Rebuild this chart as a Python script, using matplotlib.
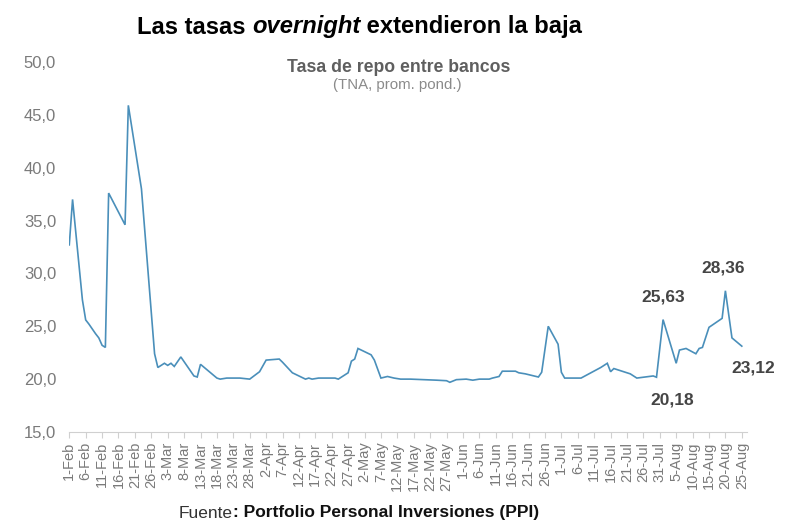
import matplotlib
matplotlib.use("Agg")
import matplotlib.pyplot as plt
import pandas as pd

# ---- data ----
dates = [
    "2025-02-01", "2025-02-02", "2025-02-05", "2025-02-06", "2025-02-07", "2025-02-09",
    "2025-02-10", "2025-02-11", "2025-02-12", "2025-02-13", "2025-02-18", "2025-02-19",
    "2025-02-23", "2025-02-27", "2025-02-28", "2025-03-02", "2025-03-03", "2025-03-04",
    "2025-03-05", "2025-03-07", "2025-03-11", "2025-03-12", "2025-03-13", "2025-03-18",
    "2025-03-19", "2025-03-21", "2025-03-25", "2025-03-28", "2025-03-31", "2025-04-02",
    "2025-04-06", "2025-04-07", "2025-04-10", "2025-04-12", "2025-04-14", "2025-04-15",
    "2025-04-16", "2025-04-18", "2025-04-20", "2025-04-23", "2025-04-24", "2025-04-25",
    "2025-04-27", "2025-04-28", "2025-04-29", "2025-04-30", "2025-05-04", "2025-05-05",
    "2025-05-07", "2025-05-09", "2025-05-11", "2025-05-13", "2025-05-16", "2025-05-20",
    "2025-05-24", "2025-05-27", "2025-05-28", "2025-05-30", "2025-06-02", "2025-06-04",
    "2025-06-06", "2025-06-09", "2025-06-10", "2025-06-12", "2025-06-13", "2025-06-17",
    "2025-06-18", "2025-06-20", "2025-06-24", "2025-06-25", "2025-06-27", "2025-06-30",
    "2025-07-01", "2025-07-02", "2025-07-07", "2025-07-13", "2025-07-15", "2025-07-16",
    "2025-07-17", "2025-07-22", "2025-07-24", "2025-07-29", "2025-07-30", "2025-08-01",
    "2025-08-05", "2025-08-06", "2025-08-08", "2025-08-11", "2025-08-12", "2025-08-13",
    "2025-08-15", "2025-08-19", "2025-08-20", "2025-08-22", "2025-08-25",
]
rates = [
    32.7, 37.0, 27.5, 25.6, 25.2, 24.3,
    23.9, 23.2, 23.0, 37.6, 34.6, 45.9,
    38.0, 22.4, 21.1, 21.5, 21.3, 21.5,
    21.2, 22.1, 20.3, 20.2, 21.4, 20.1,
    20.0, 20.1, 20.1, 20.0, 20.7, 21.8,
    21.9, 21.6, 20.6, 20.3, 20.0, 20.1,
    20.0, 20.1, 20.1, 20.1, 20.0, 20.2,
    20.6, 21.7, 21.9, 22.9, 22.3, 21.8,
    20.1, 20.25, 20.1, 20.0, 20.0, 19.95,
    19.9, 19.85, 19.7, 19.95, 20.0, 19.9,
    20.0, 20.0, 20.1, 20.25, 20.75, 20.75,
    20.6, 20.5, 20.2, 20.65, 25.0, 23.3,
    20.65, 20.1, 20.1, 21.1, 21.5, 20.7,
    21.0, 20.5, 20.1, 20.3, 20.18, 25.63,
    21.5, 22.75, 22.9, 22.4, 22.9, 23.0,
    24.9, 25.75, 28.36, 23.9, 23.12,
]
labelled_dates = ["2025-07-30", "2025-08-01", "2025-08-20", "2025-08-25"]
label_offsets_px = [(16, -23), (0, 23), (-2, 23), (11, -22)]
y_ticks = [15, 20, 25, 30, 35, 40, 45, 50]
tick_start, tick_end = "2025-02-01", "2025-08-25"

title_parts = [("Las tasas ", "normal"), ("overnight", "italic"), (" extendieron la baja", "normal")]
subtitle = "Tasa de repo entre bancos"
subtitle2 = "(TNA, prom. pond.)"
source_a, source_b = "Fuente", ": Portfolio Personal Inversiones (PPI)"

# ---- plot ----
FONT = ["Liberation Sans", "DejaVu Sans"]
plt.rcParams["font.family"] = FONT

x = pd.to_datetime(dates)
fig = plt.figure(figsize=(8.0, 5.29), dpi=100)
ax = fig.add_axes([0.0866, 0.1834, 0.8468, 0.6994])

line_color = "#4a8fba"
ax.plot(x, rates, color=line_color, lw=1.2, solid_joinstyle="miter")

ax.set_ylim(15, 50)
ax.set_yticks(y_ticks)
ax.set_yticklabels([f"{v:.1f}".replace(".", ",") for v in y_ticks])
x0 = pd.Timestamp(tick_start)
ax.set_xlim(x0, pd.Timestamp(tick_end) + pd.Timedelta(days=1.5))
ticks = pd.date_range(tick_start, tick_end, freq="5D")
ax.set_xticks(ticks)
ax.set_xticklabels([f"{t.day}-{t.strftime('%b')}" for t in ticks], rotation=90)

for s in ["top", "right", "left"]:
    ax.spines[s].set_visible(False)
ax.spines["bottom"].set_color("#d0d0d0")
ax.tick_params(axis="y", length=0, pad=9.5, labelsize=12, labelcolor="#7a7a7a")
ax.tick_params(axis="x", length=4, color="#d0d0d0", pad=3, labelsize=10.5, labelcolor="#7a7a7a")
for lab in ax.get_xticklabels():
    lab.set_horizontalalignment("center")

# annotations
for d, (ox, oy) in zip(labelled_dates, label_offsets_px):
    i = dates.index(d)
    ax.annotate(f"{rates[i]:.2f}".replace(".", ","), (x[i], rates[i]),
                xytext=(ox, oy), textcoords="offset pixels",
                ha="center", va="center", fontsize=12.5, fontweight="bold",
                color="#454545")

# title with mixed styles
fig.canvas.draw()
renderer = fig.canvas.get_renderer()
cur = 137 / 800
for txt, style in title_parts:
    t = fig.text(cur, 1 - 27 / 529, txt, fontsize=17.1, fontweight="bold", style=style,
                 color="black", va="center", ha="left", family=FONT)
    bb = t.get_window_extent(renderer)
    cur = bb.x1 / fig.bbox.width

fig.text(399 / 800, 1 - 67 / 529, subtitle, fontsize=12.7, fontweight="bold",
         color="#5f5f5f", ha="center", va="center")
fig.text(397 / 800, 1 - 85 / 529, subtitle2, fontsize=10.8,
         color="#8a8a8a", ha="center", va="center")

# source
sa = fig.text(179 / 800, 1 - 513 / 529, source_a, fontsize=12.5, color="#333333",
              ha="left", va="center")
bb = sa.get_window_extent(renderer)
fig.text(bb.x1 / 800, 1 - 513 / 529, source_b, fontsize=12.5, fontweight="bold",
         color="#111111", ha="left", va="center")

fig.savefig("out.png", dpi=100)
